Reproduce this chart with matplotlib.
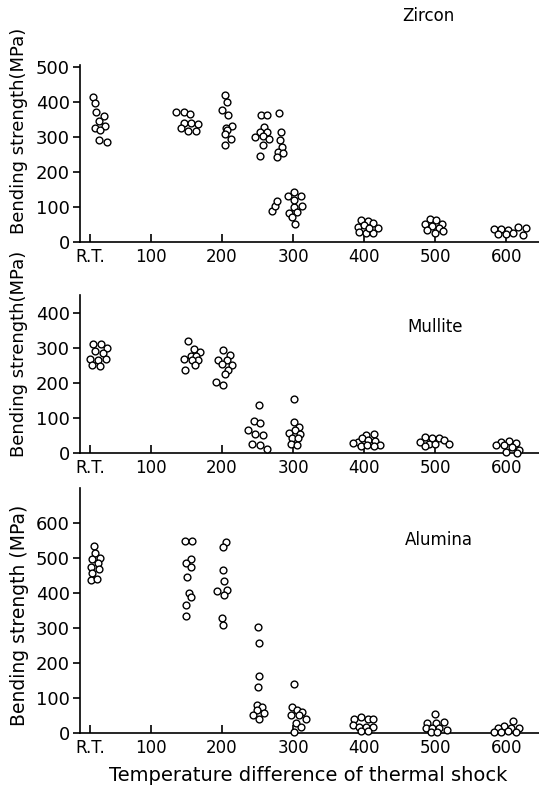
import matplotlib.pyplot as plt

# x positions (deg C, R.T. plotted at ~15) and bending strength (MPa)
zircon_x = [19, 22, 23, 34, 27, 36, 21, 28, 27, 39,
            136, 147, 155, 146, 157, 167, 142, 152, 163,
            204, 207, 200, 209, 214, 205, 207, 204, 213, 204,
            255, 263, 259, 254, 263, 258, 266, 258, 254, 246,
            280, 283, 282, 285, 279, 286, 278,
            270, 275, 278,
            293, 302, 311, 313, 301, 294, 306, 299, 303, 302,
            395, 405, 391, 400, 412, 419, 393, 402, 412, 407,
            492, 501, 485, 496, 509, 506, 489, 500, 511,
            583, 592, 602, 616, 628, 588, 600, 609, 623]
zircon_y = [413, 396, 370, 359, 345, 332, 325, 318, 290, 286,
            372, 372, 364, 340, 340, 337, 325, 317, 317,
            420, 399, 377, 362, 331, 325, 318, 307, 294, 276,
            361, 361, 328, 313, 313, 302, 295, 278, 244, 300,
            367, 315, 290, 271, 257, 255, 241,
            88, 102, 117,
            132, 143, 132, 104, 100, 84, 86, 72, 51, 121,
            62, 61, 44, 49, 53, 39, 30, 27, 27, 39,
            67, 62, 51, 46, 51, 39, 34, 27, 32,
            36, 38, 34, 43, 41, 23, 23, 25, 20]

mullite_x = [19, 30, 38, 22, 32, 14, 25, 37, 17, 28,
             152, 160, 169, 157, 164, 146, 167, 158, 162, 148,
             202, 211, 195, 207, 200, 214, 209, 204, 191, 201,
             252, 245, 254, 236, 247, 258, 242, 254, 263,
             302, 302, 309, 303, 294, 310, 299, 307, 297, 305,
             402, 414, 392, 384, 397, 406, 416, 423, 395, 404, 414,
             486, 496, 505, 512, 479, 491, 500, 519, 486,
             592, 604, 613, 585, 597, 608, 618, 599, 615]
mullite_y = [312, 312, 300, 291, 285, 269, 266, 267, 250, 247,
             318, 297, 288, 278, 278, 269, 264, 264, 252, 236,
             295, 280, 266, 264, 255, 252, 236, 224, 203, 195,
             138, 91, 87, 67, 56, 53, 27, 23, 13,
             153, 89, 75, 67, 58, 56, 42, 42, 25, 24,
             51, 56, 32, 29, 42, 37, 34, 23, 21, 23, 21,
             46, 42, 42, 37, 32, 27, 27, 25, 20,
             32, 34, 30, 23, 23, 18, 8, 4, 2]

alumina_x = [20, 21, 17, 29, 26, 16, 27, 17, 16, 24,
             148, 158, 156, 149, 157, 151, 153, 156, 149, 150,
             205, 202, 202, 203, 193, 207, 203, 200, 201,
             251, 252, 252, 251, 250, 257, 250, 259, 243, 252,
             301, 299, 306, 313, 297, 308, 318, 304, 311, 301,
             395, 386, 405, 412, 384, 393, 402, 412, 395, 405,
             500, 489, 501, 513, 487, 496, 506, 517, 494, 503,
             609, 597, 588, 606, 618, 583, 592, 602, 614]
alumina_y = [535, 513, 497, 499, 485, 475, 468, 458, 437, 440,
             549, 549, 497, 485, 473, 444, 399, 387, 366, 334,
             544, 530, 466, 434, 406, 409, 394, 328, 309,
             304, 256, 163, 132, 80, 75, 66, 56, 51, 39,
             139, 75, 66, 61, 51, 51, 39, 29, 16, 4,
             45, 39, 39, 39, 23, 18, 18, 18, 7, 7,
             53, 28, 30, 32, 13, 13, 13, 10, 3, 4,
             35, 20, 13, 13, 13, 4, 4, 7, 4]

x_ticks = [15, 100, 200, 300, 400, 500, 600]
x_labels = ["R.T.", "100", "200", "300", "400", "500", "600"]

fig = plt.figure(figsize=(5.39, 7.91), dpi=100)

panels = [
    # rect, x data, y data, y ticks, ylim top
    ([0.148, 0.694, 0.852, 0.224], zircon_x, zircon_y, [0, 100, 200, 300, 400, 500], 505),
    ([0.148, 0.427, 0.852, 0.200], mullite_x, mullite_y, [0, 100, 200, 300, 400], 450),
    ([0.148, 0.0733, 0.852, 0.310], alumina_x, alumina_y, [0, 100, 200, 300, 400, 500, 600], 700),
]

for rect, xs, ys, yt, ytop in panels:
    ax = fig.add_axes(rect)
    ax.scatter(xs, ys, s=24, facecolors="white", edgecolors="black",
               linewidths=1.0, clip_on=False, zorder=3)
    ax.set_xlim(0, 646)
    ax.set_ylim(0, ytop)
    ax.set_xticks(x_ticks)
    ax.set_xticklabels(x_labels)
    ax.set_yticks(yt)
    for side in ["top", "right"]:
        ax.spines[side].set_visible(False)
    for side in ["left", "bottom"]:
        ax.spines[side].set_linewidth(1.2)
    ax.tick_params(axis="y", direction="out", length=5, width=1.2, labelsize=13, pad=2)
    ax.tick_params(axis="x", direction="in", length=6, width=1.2, labelsize=12, pad=4)

fig.text(0.795, 0.98, "Zircon", fontsize=12, ha="center", va="center")
fig.text(0.807, 0.587, "Mullite", fontsize=12, ha="center", va="center")
fig.text(0.815, 0.317, "Alumina", fontsize=12, ha="center", va="center")

fig.text(0.036, 0.835, "Bending strength(MPa)", fontsize=13, rotation=90, ha="center", va="center")
fig.text(0.036, 0.553, "Bending strength(MPa)", fontsize=13, rotation=90, ha="center", va="center")
fig.text(0.036, 0.222, "Bending strength (MPa)", fontsize=13.5, rotation=90, ha="center", va="center")

fig.text(0.572, 0.02, "Temperature difference of thermal shock", fontsize=14, ha="center", va="center")

fig.savefig("out.png", dpi=100)
